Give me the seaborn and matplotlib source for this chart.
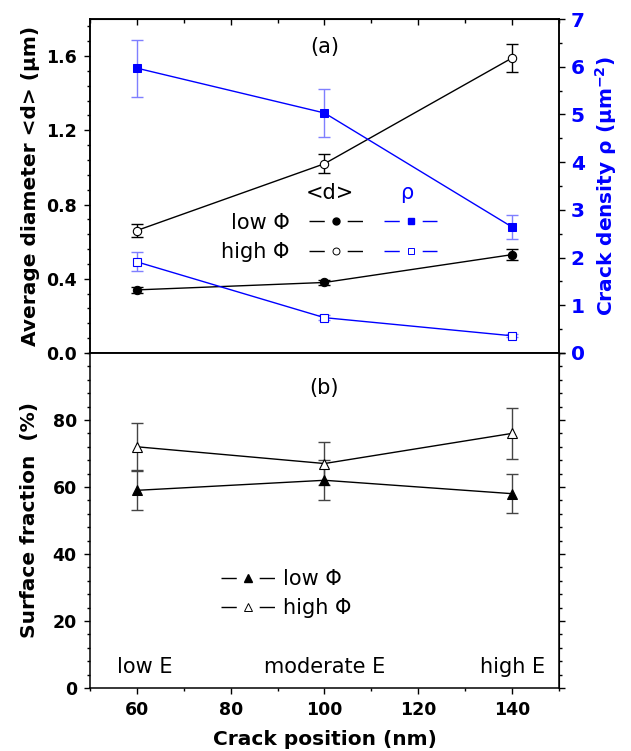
import numpy as np
import pandas as pd
import seaborn as sns
import matplotlib.pyplot as plt
from matplotlib.lines import Line2D
from matplotlib.ticker import MultipleLocator

sns.set_style("ticks")
plt.rcParams['font.family'] = ['DejaVu Sans']
plt.rcParams['mathtext.fontset'] = 'dejavusans'
for key in ["text.color", "axes.labelcolor", "xtick.color", "ytick.color", "axes.edgecolor"]:
    plt.rcParams[key] = "k"

# 数据
positions = [60, 100, 140]
region_labels = ["low E", "moderate E", "high E"]

d_low = [0.34, 0.38, 0.53]
d_low_err = [0.015, 0.015, 0.03]
d_high = [0.66, 1.02, 1.59]
d_high_err = [0.035, 0.05, 0.075]

rho_low = [5.97, 5.03, 2.64]
rho_low_err = [0.6, 0.5, 0.26]
rho_high = [1.91, 0.74, 0.36]
rho_high_err = [0.2, 0.05, 0.03]

frac_low = [59, 62, 58]
frac_low_err = [5.8, 6.0, 5.8]
frac_high = [72, 67, 76]
frac_high_err = [7.0, 6.5, 7.6]

blue = "#0000ff"
blue_err = "#7f7fff"
lab_font = dict(fontsize=14.5, fontweight="bold")
tick_font = 12.5
txt_size = 15

fig = plt.figure(figsize=(6.31, 7.51), dpi=100, facecolor="w")
ax1 = fig.add_axes([0.1426, 0.530, 0.7433, 0.4447])
ax2 = fig.add_axes([0.1426, 0.0839, 0.7433, 0.4461])
ax1r = ax1.twinx()

# a）平均直径与裂纹密度
ax1.errorbar(positions, d_low, yerr=d_low_err, fmt="none", ecolor="k", elinewidth=1, capsize=4, zorder=1)
ax1.errorbar(positions, d_high, yerr=d_high_err, fmt="none", ecolor="k", elinewidth=1, capsize=4, zorder=1)
sns.lineplot(x=positions, y=d_low, ax=ax1, color="k", lw=1, marker="o", ms=6,
             mfc="k", mec="k", zorder=2)
sns.lineplot(x=positions, y=d_high, ax=ax1, color="k", lw=1, marker="o", ms=6,
             mfc="w", mec="k", mew=0.8, zorder=2)

ax1r.errorbar(positions, rho_low, yerr=rho_low_err, fmt="none", ecolor=blue_err, elinewidth=1, capsize=4, zorder=1)
ax1r.errorbar(positions, rho_high, yerr=rho_high_err, fmt="none", ecolor=blue_err, elinewidth=1, capsize=4, zorder=1)
sns.lineplot(x=positions, y=rho_low, ax=ax1r, color=blue, lw=1, marker="s", ms=6,
             mfc=blue, mec=blue, zorder=2)
sns.lineplot(x=positions, y=rho_high, ax=ax1r, color=blue, lw=1, marker="s", ms=6,
             mfc="w", mec=blue, mew=0.8, zorder=2)

# b）表面分数
ax2.errorbar(positions, frac_low, yerr=frac_low_err, fmt="none", ecolor="#444444", elinewidth=1, capsize=4, zorder=1)
ax2.errorbar(positions, frac_high, yerr=frac_high_err, fmt="none", ecolor="#444444", elinewidth=1, capsize=4, zorder=1)
sns.lineplot(x=positions, y=frac_low, ax=ax2, color="k", lw=1, marker="^", ms=7,
             mfc="k", mec="k", zorder=2)
sns.lineplot(x=positions, y=frac_high, ax=ax2, color="k", lw=1, marker="^", ms=7,
             mfc="w", mec="k", mew=0.8, zorder=2)

# 坐标轴
for ax in (ax1, ax2):
    ax.set_xlim(50, 150)
    ax.xaxis.set_major_locator(MultipleLocator(20))
    ax.xaxis.set_minor_locator(MultipleLocator(10))
    ax.tick_params(which="both", direction="out", width=1, labelsize=tick_font, colors="k")
    ax.tick_params(which="major", length=4.5, pad=5)
    ax.tick_params(which="minor", length=2.5)
    for s in ax.spines.values():
        s.set_linewidth(1.1)
        s.set_color("k")
        s.set_visible(True)

ax1.set_ylim(0, 1.8)
ax1.yaxis.set_minor_locator(MultipleLocator(0.08))
ax1.set_yticks(np.arange(0, 1.61, 0.4))
ax1.set_yticklabels([f"{v:.1f}" for v in np.arange(0, 1.61, 0.4)], fontweight="bold")
ax1.tick_params(axis="x", labelbottom=False)
ax1.set_ylabel("Average diameter <d> (μm)", labelpad=4, **lab_font)
top = ax1.secondary_xaxis("top")
top.xaxis.set_major_locator(MultipleLocator(20))
top.xaxis.set_minor_locator(MultipleLocator(10))
top.tick_params(which="both", direction="in", labeltop=False, width=1, colors="k")
top.tick_params(which="major", length=4.5)
top.tick_params(which="minor", length=3)

ax1r.set_ylim(0, 7)
ax1r.yaxis.set_major_locator(MultipleLocator(1))
ax1r.yaxis.set_minor_locator(MultipleLocator(0.5))
ax1r.tick_params(which="both", direction="out", width=1, labelsize=14.5, color="k", labelcolor=blue)
ax1r.tick_params(which="major", length=4.5, pad=4)
ax1r.tick_params(which="minor", length=2.5)
for t in ax1r.get_yticklabels():
    t.set_fontweight("bold")
ax1r.set_ylabel(r"Crack density ρ (μm$^{\mathbf{-2}}$)", color=blue, labelpad=6, **lab_font)
for s in ax1r.spines.values():
    s.set_linewidth(1.1)
    s.set_color("k")

ax2.set_ylim(0, 100)
ax2.yaxis.set_minor_locator(MultipleLocator(4))
ax2.set_yticks([0, 20, 40, 60, 80])
ax2.set_yticklabels(["0", "20", "40", "60", "80"], fontweight="bold")
ax2.set_xticks([60, 80, 100, 120, 140])
ax2.set_xticklabels(["60", "80", "100", "120", "140"], fontweight="bold")
ax2.set_xlabel("Crack position (nm)", labelpad=8, **lab_font)
ax2.set_ylabel("Surface fraction  (%)", labelpad=10, **lab_font)
right = ax2.secondary_yaxis("right")
right.yaxis.set_major_locator(MultipleLocator(20))
right.yaxis.set_minor_locator(MultipleLocator(4))
right.tick_params(which="both", direction="out", labelright=False, width=1, colors="k")
right.tick_params(which="major", length=4.5)
right.tick_params(which="minor", length=2.5)

# 图例
dash = (0, (11, 16.5))
h_dlow = Line2D([], [], color="k", lw=1, ls=dash, marker="o", ms=5, mfc="k", mec="k")
h_dhigh = Line2D([], [], color="k", lw=1, ls=dash, marker="o", ms=5, mfc="w", mec="k", mew=0.7)
h_rlow = Line2D([], [], color=blue, lw=1, ls=dash, marker="s", ms=5, mfc=blue, mec=blue)
h_rhigh = Line2D([], [], color=blue, lw=1, ls=dash, marker="s", ms=5, mfc="w", mec=blue, mew=0.7)
leg1 = ax1.legend([h_dlow, h_dhigh, h_rlow, h_rhigh], ["low Φ", "high Φ", "", ""],
                  ncol=2, markerfirst=False, frameon=False, fontsize=txt_size,
                  handlelength=2.57, handletextpad=0.95, columnspacing=0.05,
                  labelspacing=0.45, loc="upper left", bbox_to_anchor=(0.28, 0.42),
                  borderaxespad=0, borderpad=0)
ax1.text(0.512, 0.479, "<d>", transform=ax1.transAxes, ha="center", va="center", fontsize=txt_size)
ax1.text(0.676, 0.479, "ρ", transform=ax1.transAxes, ha="center", va="center", fontsize=txt_size, color=blue)
ax1.text(0.5, 0.916, "(a)", transform=ax1.transAxes, ha="center", va="center", fontsize=txt_size)

h_flow = Line2D([], [], color="k", lw=1, ls=dash, marker="^", ms=6, mfc="k", mec="k")
h_fhigh = Line2D([], [], color="k", lw=1, ls=dash, marker="^", ms=6, mfc="w", mec="k", mew=0.7)
ax2.legend([h_flow, h_fhigh], ["low Φ", "high Φ"], frameon=False, fontsize=txt_size,
           handlelength=2.57, handletextpad=0.4, labelspacing=0.45,
           loc="upper left", bbox_to_anchor=(0.28, 0.355), borderaxespad=0, borderpad=0)
ax2.text(0.5, 0.895, "(b)", transform=ax2.transAxes, ha="center", va="center", fontsize=txt_size)
for xp, lab in zip(positions, region_labels):
    ax2.text(xp + (1.7 if lab == "low E" else 0), 6.3, lab, ha="center", va="center", fontsize=txt_size)

fig.savefig("out.png", dpi=100, facecolor="w")
